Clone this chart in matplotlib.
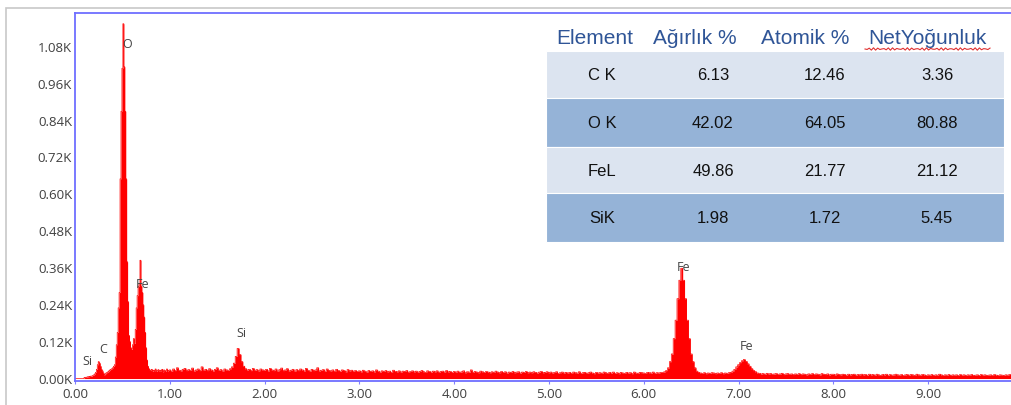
import numpy as np
import matplotlib.pyplot as plt
from matplotlib.patches import Rectangle
from matplotlib.ticker import FuncFormatter

# EDS spectrum, counts per channel
# 0.00 - 0.99 keV, 0.01 keV channels
counts_low = [
    0, 0, 0, 0, 0, 0, 0, 0, 0, 0,
    3, 4, 4, 5, 6, 6, 7, 8, 8, 10,
    12, 15, 20, 30, 45, 55, 50, 40, 30, 25,
    18, 12, 15, 18, 20, 22, 25, 28, 30, 32,
    35, 40, 45, 70, 110, 150, 230, 280, 650, 870,
    1010, 1155, 1015, 870, 650, 380, 250, 140, 120, 100,
    95, 110, 130, 115, 160, 230, 270, 300, 310, 385,
    300, 280, 240, 200, 150, 100, 60, 40, 32, 28,
    26, 30, 24, 27, 25, 31, 23, 26, 29, 24,
    27, 25, 30, 22, 28, 26, 24, 31, 25, 27,
]
# 1.00 - 9.90 keV, 0.02 keV channels
counts_high = [
    28, 24, 31, 26, 35, 27, 25, 30, 33, 26, 29, 27, 34, 25, 28, 31, 26, 38, 27, 30,
    26, 32, 28, 25, 30, 35, 27, 29, 24, 31, 28, 27, 32, 38, 50, 72, 98, 78, 55, 40,
    32, 28, 30, 26, 33, 27, 29, 25, 31, 28,
    27, 30, 25, 33, 28, 26, 31, 24, 29, 34, 26, 28, 32, 25, 27, 30, 24, 29, 26, 31,
    28, 25, 33, 27, 24, 30, 26, 28, 35, 25, 27, 29, 24, 31, 26, 25, 28, 23, 30, 26,
    24, 28, 26, 22, 29, 25, 27, 24, 26, 23,
    25, 22, 27, 24, 21, 26, 23, 25, 22, 28, 24, 21, 25, 23, 26, 22, 24, 20, 27, 23,
    22, 25, 21, 24, 23, 26, 20, 23, 25, 22, 24, 21, 23, 26, 22, 20, 25, 23, 21, 24,
    22, 25, 20, 23, 24, 21, 26, 22, 23, 20,
    23, 21, 24, 20, 22, 25, 19, 22, 21, 28, 20, 23, 21, 19, 24, 22, 20, 23, 21, 19,
    22, 20, 24, 21, 19, 23, 20, 22, 18, 21, 20, 23, 19, 21, 22, 18, 21, 20, 23, 19,
    21, 19, 22, 20, 18, 21, 23, 19, 20, 22,
    19, 21, 18, 20, 22, 17, 19, 21, 18, 20, 18, 20, 17, 21, 19, 18, 22, 17, 19, 20,
    17, 19, 21, 18, 16, 20, 18, 19, 17, 21, 19, 17, 20, 18, 21, 17, 19, 16, 20, 18,
    17, 20, 18, 19, 16, 21, 18, 17, 20, 19,
    18, 17, 20, 19, 18, 21, 17, 19, 18, 20, 20, 22, 26, 35, 55, 80, 130, 190, 260, 320,
    359, 320, 260, 190, 130, 80, 55, 35, 24, 20, 18, 17, 19, 16, 18, 17, 19, 18, 16, 18,
    17, 19, 16, 18, 17, 19, 20, 24, 30, 38,
    45, 52, 58, 62, 56, 48, 40, 32, 26, 22, 18, 17, 15, 16, 14, 17, 15, 16, 14, 15,
    16, 14, 15, 17, 13, 15, 16, 14, 15, 13, 15, 14, 16, 13, 15, 14, 12, 15, 14, 16,
    13, 15, 14, 12, 16, 14, 13, 15, 12, 14,
    14, 12, 15, 13, 12, 14, 13, 11, 14, 12, 13, 14, 11, 13, 12, 14, 12, 13, 11, 14,
    12, 13, 11, 14, 12, 10, 13, 12, 14, 11, 13, 11, 12, 14, 12, 11, 13, 10, 12, 13,
    11, 13, 12, 10, 14, 12, 11, 13, 12, 10,
    12, 11, 13, 10, 12, 11, 14, 12, 10, 12, 11, 13, 10, 12, 11, 12, 10, 13, 11, 12,
    10, 12, 11, 13, 10, 11, 12, 10, 13, 11, 12, 10, 11, 12, 10, 13, 11, 10, 12, 11,
    10, 12, 11, 13, 10, 12,
]

# peak labels: (text, keV, counts)
peak_labels = [('O', 0.55, 1086), ('Fe', 0.71, 305), ('Si', 0.13, 54), ('C', 0.30, 96),
               ('Si', 1.76, 148), ('Fe', 6.42, 363), ('Fe', 7.08, 103)]

# quantification table
headers = ['Element', 'Ağırlık %', 'Atomik %', 'NetYoğunluk']
elements = ['C K', 'O K', 'FeL', 'SiK']
weight_pct = ['6.13', '42.02', '49.86', '1.98']
atomic_pct = ['12.46', '64.05', '21.77', '1.72']
net_intensity = ['3.36', '80.88', '21.12', '5.45']

energy = np.concatenate([np.arange(len(counts_low)) * 0.01,
                         1.0 + np.arange(len(counts_high)) * 0.02])
counts = np.array(counts_low + counts_high, dtype=float)

W, H = 1011, 405
fig = plt.figure(figsize=(W / 100, H / 100), dpi=100)
plt.rcParams['font.family'] = ['Liberation Sans', 'DejaVu Sans']

# light grey frame around the plot panel
fig.add_artist(Rectangle((5.5 / W, -0.1), 1.2, 1.1 - 8 / H, transform=fig.transFigure,
                         fill=False, edgecolor='#c8c8c8', linewidth=1.2))

ax = fig.add_axes([75 / W, (H - 381) / H, 1 - 75 / W + 0.01, 368 / H])
ax.fill_between(energy, counts, step='mid', color='#ff0000', linewidth=0)
ax.step(energy, counts, where='mid', color='#ff0000', linewidth=0.5)
ax.set_xlim(0, 9.98)
ax.set_ylim(-8, 1190)

for txt, x, y in peak_labels:
    ax.text(x, y, txt, ha='center', va='center', fontsize=9, color='#444444',
            family=['Open Sans', 'DejaVu Sans'])

ax.set_xticks(np.arange(0, 10, 1.0))
ax.set_yticks(np.arange(0, 1.09, 0.12) * 1000)
ax.xaxis.set_major_formatter(FuncFormatter(lambda v, p: '%.2f' % v))
ax.yaxis.set_major_formatter(FuncFormatter(lambda v, p: '%.2fK' % (v / 1000)))
ax.tick_params(axis='x', length=2, width=0.8, color='#8080ff', labelsize=9.5,
               labelcolor='#404040', pad=3)
ax.tick_params(axis='y', length=0, labelsize=9.5, labelcolor='#404040', pad=2)
for lab in ax.get_xticklabels() + ax.get_yticklabels():
    lab.set_family(['Open Sans', 'DejaVu Sans'])
for side in ['left', 'top', 'bottom']:
    ax.spines[side].set_color('#6e6eff')
    ax.spines[side].set_linewidth(1.3)
ax.spines['right'].set_visible(False)

# table drawn in pixel coordinates of the figure
def fx(px):
    return px / W

def fy(py):
    return 1 - py / H

row_edges = [51, 98, 147, 193, 242]
row_colors = ['#dce4f0', '#95b3d7', '#dce4f0', '#95b3d7']
for i in range(4):
    fig.add_artist(Rectangle((fx(546), fy(row_edges[i + 1])), fx(1004) - fx(546),
                             fy(row_edges[i]) - fy(row_edges[i + 1]),
                             transform=fig.transFigure, facecolor=row_colors[i],
                             edgecolor='white', linewidth=0.8))

header_x = [595, 695, 805, 927]
for h, x in zip(headers, header_x):
    fig.text(fx(x), fy(38), h, ha='center', va='center', fontsize=15, color='#2f5597')

# spell-check squiggle under the last header
sq_x = np.linspace(865, 990, 60)
sq_y = 49 + 1.2 * np.sin((sq_x - 865) * 1.3)
fig.add_artist(plt.Line2D(fx(sq_x), fy(sq_y), transform=fig.transFigure,
                          color='#e03030', linewidth=0.8))

cell_x = [602, 713, 825, 937]
row_y = [75, 123, 171, 218]
for r in range(4):
    vals = [elements[r], weight_pct[r], atomic_pct[r], net_intensity[r]]
    for v, x in zip(vals, cell_x):
        fig.text(fx(x), fy(row_y[r]), v, ha='center', va='center', fontsize=12,
                 color='#111111')

fig.savefig('out.png', dpi=100)
